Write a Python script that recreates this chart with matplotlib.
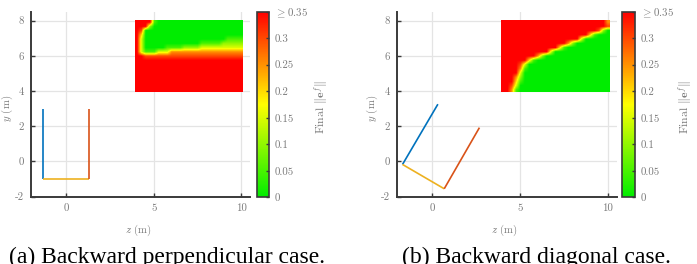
import matplotlib
matplotlib.use("Agg")
import matplotlib.pyplot as plt
import numpy as np
from matplotlib.colors import LinearSegmentedColormap

# ---------------- data ----------------
# Heatmap grid: z from 4.0 to 10.0 step 0.25 (25 cols), y from 8.0 down to 4.0 step 0.25 (17 rows)
# each character = Final ||e^f|| in units of 0.05 (7 means >= 0.35)
heat_z = np.arange(4.0, 10.001, 0.25)
heat_y = np.arange(8.0, 3.999, -0.25)

heat_a_rows = [
    "7777100000000000000000000",  # y = 8.00
    "7772000000000000000000000",  # 7.75
    "7600000000000000000000000",  # 7.50
    "7400000000000000000000000",  # 7.25
    "7300000000000000000001111",  # 7.00
    "7300000000000001111122222",  # 6.75
    "7300000111122223333333333",  # 6.50
    "7311133355555555555555555",  # 6.25
    "7766666666666666666666666",  # 6.00
    "7777777777777777777777777",  # 5.75
    "7777777777777777777777777",  # 5.50
    "7777777777777777777777777",  # 5.25
    "7777777777777777777777777",  # 5.00
    "7777777777777777777777777",  # 4.75
    "7777777777777777777777777",  # 4.50
    "7777777777777777777777777",  # 4.25
    "7777777777777777777777777",  # 4.00
]

heat_b_rows = [
    "7777777777777777777777775",  # y = 8.00
    "7777777777777777777777776",  # 7.75
    "7777777777777777777777620",  # 7.50
    "7777777777777777777741000",  # 7.25
    "7777777777777777773000000",  # 7.00
    "7777777777777775200000000",  # 6.75
    "7777777777777410000000000",  # 6.50
    "7777777777730000000000000",  # 6.25
    "7777777752000000000000000",  # 6.00
    "7777774100000000000000000",  # 5.75
    "7777630000000000000000000",  # 5.50
    "7777510000000000000000000",  # 5.25
    "7777300000000000000000000",  # 5.00
    "7775200000000000000000000",  # 4.75
    "7774100000000000000000000",  # 4.50
    "7763000000000000000000000",  # 4.25
    "7751000000000000000000000",  # 4.00
]

# vehicle / trailer segments (z, y)
a_blue_z, a_blue_y = [-1.34, -1.34], [3.0, -1.0]
a_yell_z, a_yell_y = [-1.34, 1.33], [-1.0, -1.0]
a_red_z, a_red_y = [1.33, 1.33], [-1.0, 3.0]

b_blue_z, b_blue_y = [-1.67, 0.34], [-0.17, 3.25]
b_yell_z, b_yell_y = [-1.67, 0.70], [-0.17, -1.55]
b_red_z, b_red_y = [0.70, 2.70], [-1.55, 1.92]

x_ticks = [0, 5, 10]
y_ticks = [-2, 0, 2, 4, 6, 8]
cb_ticks = [0, 0.05, 0.1, 0.15, 0.2, 0.25, 0.3, 0.35]
cb_labels = ["0", "0.05", "0.1", "0.15", "0.2", "0.25", "0.3", r"$\geq$0.35"]
captions = ["(a) Backward perpendicular case.", "(b) Backward diagonal case."]

# ---------------- style ----------------
plt.rcParams["mathtext.fontset"] = "cm"
plt.rcParams["font.family"] = ["cmr10", "DejaVu Serif"]
plt.rcParams["axes.unicode_minus"] = False
plt.rcParams["axes.formatter.use_mathtext"] = True

C_BLUE, C_RED, C_YEL = "#0072BD", "#D95319", "#EDB120"
GRAY_TXT = "#7a7a7a"
SPINE = "#3a3a3a"
cmap = LinearSegmentedColormap.from_list("gyr", [(0.0, 0.93, 0.0), (1.0, 1.0, 0.0), (1.0, 0.0, 0.0)])

W, H = 697, 264
fig = plt.figure(figsize=(W / 100, H / 100), dpi=100)


def axes_px(l, t, r, b):
    return fig.add_axes([l / W, 1 - b / H, (r - l) / W, (b - t) / H])


def decode(rows):
    return np.array([[int(c) * 0.05 for c in r] for r in rows])


def panel(ax_box, cax_box, rows, segs, caption, cap_x, cb_label_x):
    ax = axes_px(*ax_box)
    cax = axes_px(*cax_box)
    data = decode(rows)
    im = ax.imshow(data, cmap=cmap, vmin=0, vmax=0.35, aspect="auto",
                   extent=[3.92, 10.06, 3.95, 8.02], origin="upper",
                   interpolation="bilinear", interpolation_stage="data", zorder=2)
    for (zs, ys), c in zip(segs, [C_BLUE, C_YEL, C_RED]):
        ax.plot(zs, ys, color=c, lw=1.2, zorder=3, solid_capstyle="butt")
    ax.set_xlim(-2, 10.5)
    ax.set_ylim(-2, 8.5)
    ax.set_xticks(x_ticks)
    ax.set_xticklabels([str(v) for v in x_ticks])
    ax.set_yticks(y_ticks)
    ax.set_yticklabels([str(v) for v in y_ticks])
    ax.grid(True, color="#e4e4e4", lw=0.9, zorder=0)
    ax.set_axisbelow(True)
    for s in ["top", "right"]:
        ax.spines[s].set_visible(False)
    for s in ["left", "bottom"]:
        ax.spines[s].set_color(SPINE)
        ax.spines[s].set_linewidth(1.4)
    ax.tick_params(direction="in", length=3, width=1.0, color=SPINE,
                   labelcolor=GRAY_TXT, labelsize=7.8, pad=5)
    ax.set_xlabel(r"$z$ (m)", color=GRAY_TXT, fontsize=7.8)
    ax.set_ylabel(r"$y$ (m)", color=GRAY_TXT, fontsize=7.8)
    ax.xaxis.set_label_coords(0.49, -0.14)
    ax.yaxis.set_label_coords(-0.075, 0.48)

    cb = fig.colorbar(im, cax=cax, ticks=cb_ticks)
    cb.ax.set_yticklabels(cb_labels)
    cb.outline.set_edgecolor(SPINE)
    cb.outline.set_linewidth(1.2)
    cb.ax.tick_params(direction="in", length=2.5, width=1.0, color=SPINE,
                      labelcolor=GRAY_TXT, labelsize=7.8, pad=4)
    cb.set_label(r"Final $\|\mathbf{e}^{f}\|$", color=GRAY_TXT, fontsize=8.5)
    cb.ax.yaxis.set_label_coords((cb_label_x - 7) / W, 1 - 107 / H, transform=fig.transFigure)
    cb.ax.yaxis.label.set_va("top")

    fig.text(cap_x / W, 1 - 262.5 / H, caption, ha="center", va="baseline",
             fontsize=17, family="Liberation Serif", color="black")


panel((31, 11.7, 250, 196.7), (256.7, 11.7, 269.3, 197.3), heat_a_rows,
      [(a_blue_z, a_blue_y), (a_yell_z, a_yell_y), (a_red_z, a_red_y)],
      captions[0], 167, 319)
panel((396.7, 11.7, 616.7, 196.7), (621.7, 11.7, 635, 197.3), heat_b_rows,
      [(b_blue_z, b_blue_y), (b_yell_z, b_yell_y), (b_red_z, b_red_y)],
      captions[1], 536, 683)

fig.savefig("out.png", dpi=100)
